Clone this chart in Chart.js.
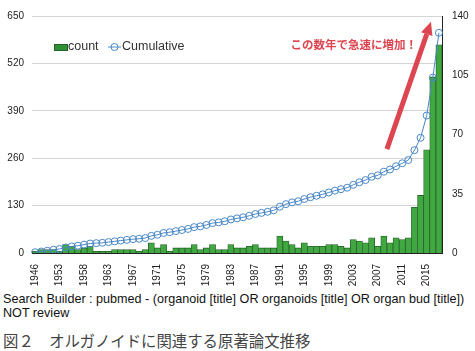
<!DOCTYPE html>
<html>
<head>
<meta charset="utf-8">
<script src="https://cdn.jsdelivr.net/npm/chart.js@4"></script>
<style>
  body { margin: 0; background: #fff; font-family: "Liberation Sans", Arial, sans-serif; }
  #wrap { position: relative; width: 475px; height: 290px; }
  .note { position: absolute; left: 3px; font-size: 12.6px; color: #111; white-space: nowrap; }
  .caption { position: absolute; left: 3px; top: 329px; font-family: "Noto Sans CJK JP", sans-serif; font-size: 15.4px; color: #444; white-space: nowrap; }
</style>
</head>
<body>
<div id="wrap"><canvas id="chart" width="475" height="290"></canvas></div>
<div class="note" style="top:292px">Search Builder : pubmed - (organoid [title] OR organoids [title] OR organ bud [title])</div>
<div class="note" style="top:306px">NOT review</div>
<div class="caption">図２　オルガノイドに関連する原著論文推移</div>
<script>
// years with at least one paper (some early years are missing)
const years = [
  1946, 1950, 1951, 1952, 1953, 1955, 1956, 1957, 1958, 1960,
  1961, 1962, 1963, 1964, 1965, 1966, 1967, 1968, 1969, 1970,
  1971, 1972, 1973, 1974, 1975, 1976, 1977, 1978, 1979, 1980,
  1981, 1982, 1983, 1984, 1985, 1986, 1987, 1988, 1989, 1990,
  1991, 1992, 1993, 1994, 1995, 1996, 1997, 1998, 1999, 2000,
  2001, 2002, 2003, 2004, 2005, 2006, 2007, 2008, 2009, 2010,
  2011, 2012, 2013, 2014, 2015, 2016, 2017
];

// papers per year (right axis)
const counts = [
  1, 2, 2, 2, 1, 5, 4, 2, 3, 4,
  1, 1, 1, 2, 2, 2, 2, 1, 2, 6,
  3, 5, 1, 3, 3, 3, 5, 2, 3, 5,
  2, 2, 5, 3, 3, 4, 5, 3, 3, 3,
  10, 7, 5, 3, 6, 4, 4, 4, 5, 5,
  4, 3, 8, 7, 6, 9, 4, 10, 6, 9,
  8, 9, 27, 34, 61, 104, 123
];

// cumulative total (left axis)
const cumulative = [
  2, 4, 6, 9, 11, 15, 18, 20, 23, 26,
  27, 28, 30, 32, 34, 36, 38, 39, 41, 47,
  50, 55, 57, 60, 63, 66, 71, 73, 77, 82,
  84, 87, 92, 95, 98, 102, 107, 110, 113, 117,
  127, 134, 139, 142, 148, 153, 157, 161, 166, 171,
  175, 179, 187, 194, 200, 209, 213, 223, 229, 238,
  246, 255, 282, 316, 377, 481, 604
];

const leftTicks = [0, 130, 260, 390, 520, 650];
const rightTicks = [0, 35, 70, 105, 140];

const note = 'この数年で急速に増加！';

const barGreen = '#41a841';
const barEdge = '#24602a';
const lineBlue = '#4a88c6';
const noteRed = '#dc4650';

// legend inside the plot, top left
const legendPlugin = {
    id: 'insideLegend',
    afterDraw(chart) {
        const c = chart.ctx;
        const a = chart.chartArea;
        const y = a.top + 31;
        let x = a.left + 22;
        c.save();
        c.fillStyle = '#2f8f35';
        c.strokeStyle = barEdge;
        c.lineWidth = 1;
        c.fillRect(x, y - 3, 14, 7);
        c.strokeRect(x + 0.5, y - 2.5, 13, 6);
        c.font = '12.5px "Liberation Sans", Arial, sans-serif';
        c.fillStyle = '#333';
        c.textBaseline = 'middle';
        c.fillText('count', x + 14, y);
        x += 54;
        c.strokeStyle = lineBlue;
        c.beginPath();
        c.moveTo(x, y);
        c.lineTo(x + 13, y);
        c.stroke();
        c.beginPath();
        c.arc(x + 6.5, y, 3.5, 0, Math.PI * 2);
        c.stroke();
        c.fillText('Cumulative', x + 14, y);
        c.restore();
    }
};

// red note + arrow, placed through the scales
const notePlugin = {
    id: 'noteArrow',
    afterDatasetsDraw(chart) {
        const c = chart.ctx;
        const xs = chart.scales.x;
        const ys = chart.scales.y;
        const x0 = xs.getPixelForValue(57.5), y0 = ys.getPixelForValue(285);
        const x1 = xs.getPixelForValue(64.7), y1 = ys.getPixelForValue(634);
        const ang = Math.atan2(y1 - y0, x1 - x0);
        const head = 13, half = 6;
        const bx = x1 - head * Math.cos(ang), by = y1 - head * Math.sin(ang);
        c.save();
        c.strokeStyle = noteRed;
        c.fillStyle = noteRed;
        c.lineWidth = 5;
        c.beginPath();
        c.moveTo(x0, y0);
        c.lineTo(bx, by);
        c.stroke();
        c.beginPath();
        c.moveTo(x1, y1);
        c.lineTo(bx + half * Math.sin(ang), by - half * Math.cos(ang));
        c.lineTo(bx - half * Math.sin(ang), by + half * Math.cos(ang));
        c.closePath();
        c.fill();
        c.font = 'bold 11.5px "Noto Sans CJK JP", sans-serif';
        c.textAlign = 'right';
        c.textBaseline = 'middle';
        c.fillText(note, xs.getPixelForValue(62.4), ys.getPixelForValue(571));
        c.restore();
    }
};

const ctx = document.getElementById('chart').getContext('2d');
const chart = new Chart(ctx, {
    type: 'bar',
    data: {
        labels: years.map(String),
        datasets: [{
            type: 'line',
            label: 'Cumulative',
            data: cumulative,
            yAxisID: 'y',
            borderColor: lineBlue,
            borderWidth: 1,
            pointRadius: 3.5,
            pointBorderWidth: 1,
            pointBackgroundColor: 'rgba(255,255,255,0)',
            pointBorderColor: lineBlue,
            fill: false,
            tension: 0,
            order: 1
        }, {
            type: 'bar',
            label: 'count',
            data: counts,
            yAxisID: 'y1',
            backgroundColor: barGreen,
            borderColor: barEdge,
            borderWidth: 0.8,
            barPercentage: 1,
            categoryPercentage: 1,
            order: 2
        }]
    },
    options: {
        responsive: false,
        animation: false,
        devicePixelRatio: 1,
        layout: { padding: { top: 13, left: 0, right: 0, bottom: 0 } },
        plugins: {
            legend: { display: false },
            tooltip: { enabled: false }
        },
        scales: {
            x: {
                offset: true,
                grid: { display: false },
                border: { display: true, color: '#222', width: 1 },
                ticks: {
                    autoSkip: false,
                    maxRotation: 90,
                    minRotation: 90,
                    padding: 3,
                    color: '#222',
                    font: { size: 10, family: '"Liberation Sans", Arial, sans-serif' },
                    callback: (v, i) => (i % 4 === 0 ? years[i] : '')
                },
                afterFit: s => { s.height = 37; }
            },
            y: {
                position: 'left',
                min: 0,
                max: 650,
                afterBuildTicks: s => { s.ticks = leftTicks.map(v => ({ value: v })); },
                grid: { color: '#d4d4d4', drawTicks: false },
                border: { display: false },
                ticks: {
                    padding: 8,
                    color: '#222',
                    font: { size: 10, family: '"Liberation Sans", Arial, sans-serif' }
                },
                afterFit: s => { s.width = 32; }
            },
            y1: {
                position: 'right',
                min: 0,
                max: 140,
                afterBuildTicks: s => { s.ticks = rightTicks.map(v => ({ value: v })); },
                grid: { display: false, drawTicks: false },
                border: { display: true, color: '#222', width: 1 },
                ticks: {
                    padding: 10,
                    color: '#222',
                    font: { size: 10, family: '"Liberation Sans", Arial, sans-serif' }
                },
                afterFit: s => { s.width = 33; }
            }
        }
    },
    plugins: [legendPlugin, notePlugin]
});
</script>
</body>
</html>
